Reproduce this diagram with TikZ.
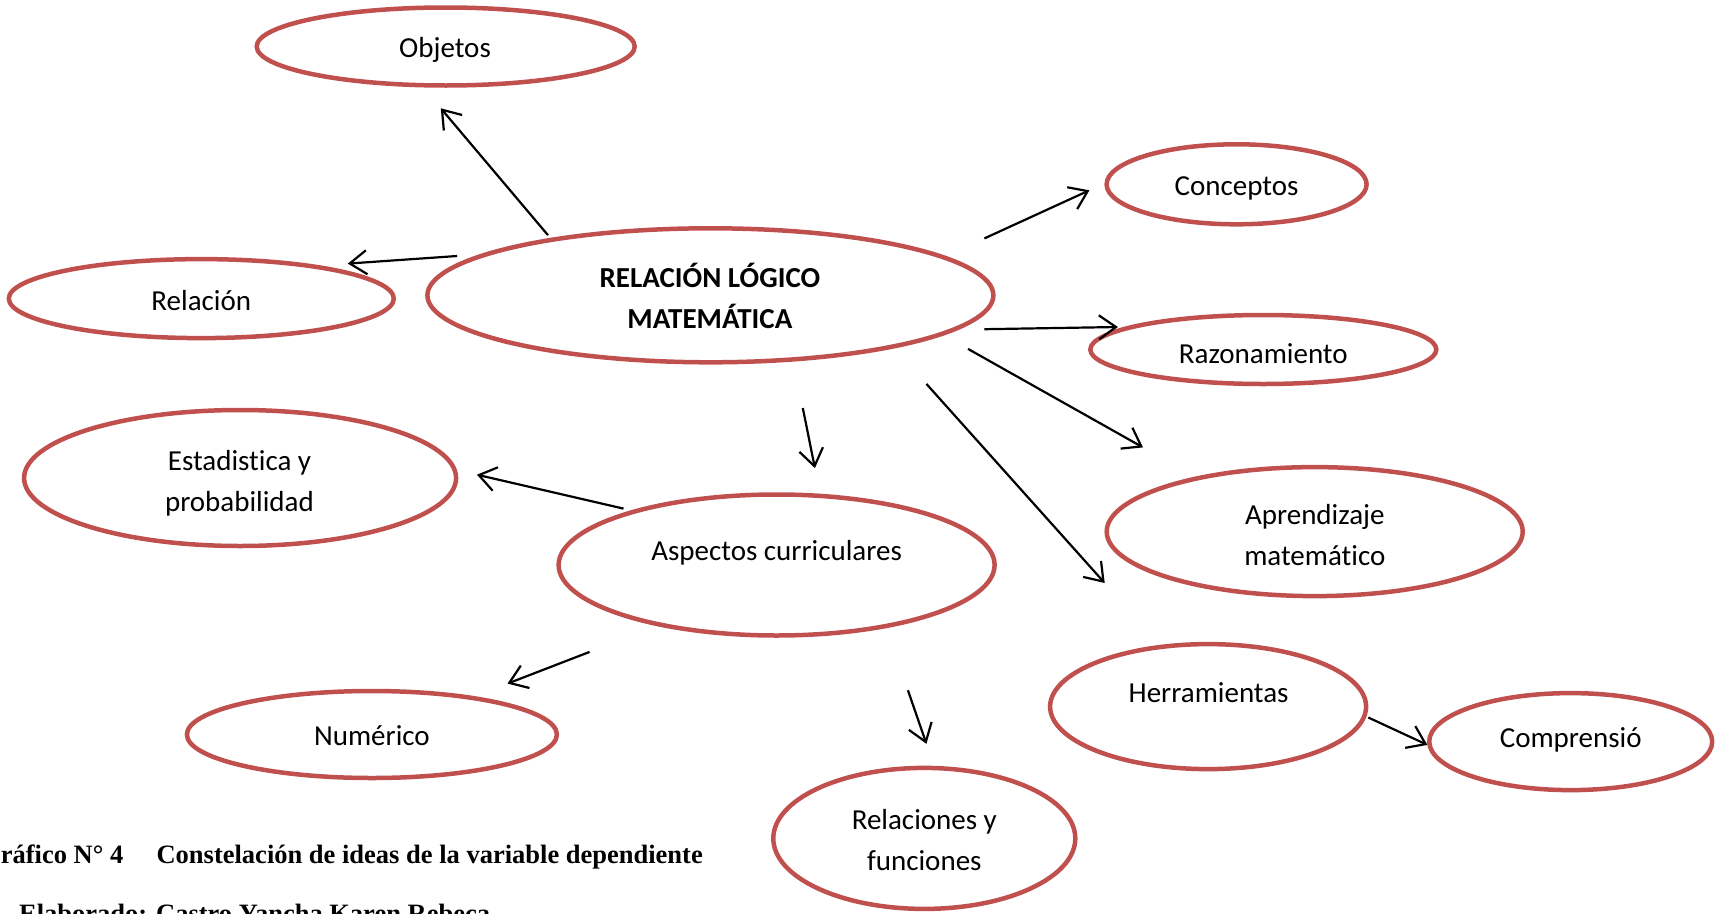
\documentclass[tikz,border=0pt]{standalone}
\usepackage{fontspec}
\setmainfont{Carlito}[Ligatures=CommonOff]
\newfontfamily\capfont{Liberation Serif}
\usetikzlibrary{shapes.geometric,arrows.meta}
\definecolor{bubred}{RGB}{192,80,77}
\begin{document}
\begin{tikzpicture}[x=1pt,y=-1pt,
  bub/.style={draw=bubred, line width=4.5pt, ellipse, inner sep=0pt},
  lab/.style={font=\fontsize{29}{41}\selectfont, align=center, inner sep=0pt},
  arr/.style={-{Straight Barb[length=17pt,width=24pt,line width=2.2pt]}, line width=2.2pt},
  captext/.style={font=\capfont\bfseries\fontsize{26.5}{30}\selectfont, inner sep=0pt, anchor=base west}]
\useasboundingbox (0,0) rectangle (1715,913);
% ellipses
\node[bub, minimum width=378, minimum height=78] (obj) at (445.7,46.5) {};
\node[bub, minimum width=260, minimum height=80] (con) at (1236.6,184.3) {};
\node[bub, minimum width=566, minimum height=134] (rel) at (710.4,295.3) {};
\node[bub, minimum width=385, minimum height=79] (rln) at (201.3,298.6) {};
\node[bub, minimum width=346, minimum height=69] (raz) at (1263.3,349.5) {};
\node[bub, minimum width=432, minimum height=136] (est) at (240.1,478) {};
\node[bub, minimum width=416, minimum height=129] (apr) at (1314.7,531.6) {};
\node[bub, minimum width=436, minimum height=141] (asp) at (776.6,565) {};
\node[bub, minimum width=316, minimum height=125] (her) at (1208.1,706.6) {};
\node[bub, minimum width=283, minimum height=97] (com) at (1570.7,741.6) {};
\node[bub, minimum width=370, minimum height=87] (num) at (371.9,734.5) {};
\node[bub, minimum width=302, minimum height=141] (rfn) at (924.3,838.4) {};
% labels
\node[lab] (objt) at (445,49.5) {Objetos};
\node[lab] (cont) at (1236.6,188) {Conceptos};
\node[lab, font=\bfseries\fontsize{29}{41}\selectfont] (relt) at (709.9,295.5) {RELACIÓN LÓGICO\\MATEMÁTICA};
\node[lab] (rlnt) at (201.3,301) {Relación};
\node[lab] (razt) at (1263.3,353.3) {Razonamiento};
\node[lab] (estt) at (239.5,483) {Estadistica y\\probabilidad};
\node[lab] (aprt) at (1314.8,535.4) {Aprendizaje\\matemático};
\node[lab] (aspt) at (776.6,552.5) {Aspectos curriculares};
\node[lab] (hert) at (1208.6,692.4) {Herramientas};
\node[lab] (comt) at (1570.7,739.5) {Comprensió};
\node[lab] (numt) at (371.9,735.5) {Numérico};
\node[lab] (rfnt) at (924.3,840) {Relaciones y\\funciones};
% arrow ends
\coordinate (a1s) at (457.2,256.0); \coordinate (a1e) at (347.8,263.6);
\coordinate (a2s) at (548.0,235.2); \coordinate (a2e) at (440.8,108.3);
\coordinate (a3s) at (984.4,238.4); \coordinate (a3e) at (1089.4,190.3);
\coordinate (a4s) at (984.4,329.2); \coordinate (a4e) at (1117.9,327.0);
\coordinate (a5s) at (968.0,348.9); \coordinate (a5e) at (1143.0,447.4);
\coordinate (a6s) at (926.4,383.9); \coordinate (a6e) at (1104.7,583.0);
\coordinate (a7s) at (802.8,408.0); \coordinate (a7e) at (814.9,468.1);
\coordinate (a8s) at (623.5,508.6); \coordinate (a8e) at (476.9,474.7);
\coordinate (a9s) at (589.6,651.9); \coordinate (a9e) at (507.5,683.6);
\coordinate (a10s) at (907.9,690.2); \coordinate (a10e) at (926.4,743.8);
\coordinate (a11s) at (1368.3,717.5); \coordinate (a11e) at (1427.4,744.9);
\foreach \i in {1,...,11} {\draw[arr] (a\i s) -- (a\i e);}
% caption
\node[captext] (cap1) at (-20,863) {Gráfico N° 4};
\node[captext] (cap2) at (156.4,863) {Constelación de ideas de la variable dependiente};
\node[captext] (cap3) at (19,922) {Elaborado: Castro Yancha Karen Rebeca};
\end{tikzpicture}
\end{document}
